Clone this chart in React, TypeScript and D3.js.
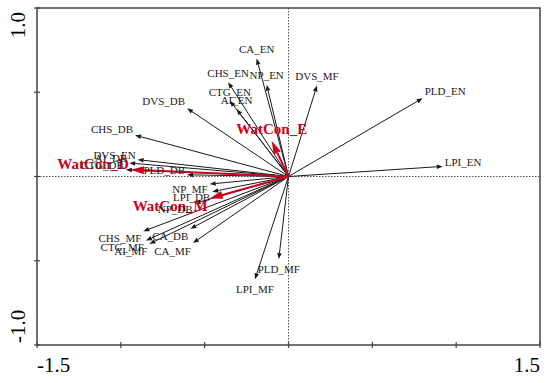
import * as d3 from "d3";

// species / landscape metrics (black arrows)
const metricNames = [
    "CA_EN", "NP_EN", "CHS_EN", "CTG_EN", "AI_EN", "DVS_MF", "PLD_EN", "LPI_EN",
    "DVS_DB", "CHS_DB", "DVS_EN", "AI_DB", "CTG_DB", "PLD_DB", "NP_MF", "LPI_DB",
    "NP_DB", "CHS_MF", "CA_DB", "CTG_MF", "AI_MF", "CA_MF", "PLD_MF", "LPI_MF",
];
const metricX = [
    -0.19, -0.13, -0.36, -0.35, -0.31, 0.17, 0.8, 0.92,
    -0.605, -0.915, -0.9, -0.95, -0.97, -0.605, -0.47, -0.455,
    -0.56, -0.866, -0.585, -0.85, -0.83, -0.57, -0.058, -0.2,
];
const metricY = [
    0.7, 0.545, 0.56, 0.45, 0.4, 0.54, 0.465, 0.06,
    0.405, 0.245, 0.1, 0.08, 0.04, 0.01, -0.045, -0.09,
    -0.16, -0.325, -0.31, -0.38, -0.4, -0.395, -0.49, -0.61,
];

// water conditions (red arrows)
const conNames = ["WatCon_E", "WatCon_D", "WatCon_M"];
const conX = [-0.1, -0.94, -0.47];
const conY = [0.21, 0.04, -0.13];

const xTicks = [-1.5, -1, -0.5, 0, 0.5, 1, 1.5];
const yTicks = [-1, -0.5, 0, 0.5, 1];
const xTickLabels = ["-1.5", "1.5"];
const yTickLabels = ["-1.0", "1.0"];

const W = 550;
const H = 383;
const RED = "#d00020";
const FONT = "'Liberation Serif', 'Times New Roman', serif";

const x = d3.scaleLinear().domain([-1.5, 1.5]).range([37, 540]);
const y = d3.scaleLinear().domain([-1, 1]).range([345, 8]);

interface ArrowProps {
    vx: number;
    vy: number;
    name: string;
    color: string;
    bold: boolean;
    part: "line" | "label";
}

function Arrow({ vx, vy, name, color, bold, part }: ArrowProps) {
    const x0 = x(0);
    const y0 = y(0);
    const x1 = x(vx);
    const y1 = y(vy);
    const dx = x1 - x0;
    const dy = y1 - y0;
    const len = Math.hypot(dx, dy);
    const ux = dx / len;
    const uy = dy / len;
    const k = bold ? 1.3 : 1;
    const headLen = bold ? 13 : 6;
    const headW = bold ? 4 : 2.3;

    if (part === "line") {
        const bx = x1 - ux * headLen;
        const by = y1 - uy * headLen;
        const head = [
            [x1, y1],
            [bx - uy * headW, by + ux * headW],
            [bx + uy * headW, by - ux * headW],
        ];
        return (
            <g>
                <line
                    x1={x0}
                    y1={y0}
                    x2={bx}
                    y2={by}
                    stroke={color}
                    strokeWidth={bold ? 2 : 1}
                />
                <path d={`M${head.map((p) => p.join(",")).join("L")}Z`} fill={color} />
            </g>
        );
    }

    const side = Math.abs(ux) > 0.7;
    const anchor = side ? (ux > 0 ? "start" : "end") : "middle";
    const tx = side ? x1 + Math.sign(ux) * 2 : x1;
    const ty = y1 + (Math.sign(uy) * 4.5 + uy * 5.5) * k;
    return (
        <text
            x={tx}
            y={ty}
            textAnchor={anchor}
            dominantBaseline="central"
            fontFamily={FONT}
            fontSize={bold ? 15 : 11}
            fontWeight={bold ? "bold" : "normal"}
            fill={color}
        >
            {name}
        </text>
    );
}

export default function App() {
    const left = x(-1.5);
    const right = x(1.5);
    const top = y(1);
    const bottom = y(-1);

    return (
        <svg
            width={W}
            height={H}
            style={{ position: "absolute", left: 0, top: 0, background: "#fff" }}
        >
            {/* zero lines */}
            <line x1={left} x2={right} y1={y(0)} y2={y(0)} stroke="#555" strokeDasharray="1.5,1.5" />
            <line x1={x(0)} x2={x(0)} y1={top} y2={bottom} stroke="#555" strokeDasharray="1.5,1.5" />

            {/* arrows */}
            {metricNames.map((n, i) => (
                <Arrow key={n} vx={metricX[i]} vy={metricY[i]} name={n} color="#1a1a1a" bold={false} part="line" />
            ))}
            {conNames.map((n, i) => (
                <Arrow key={n} vx={conX[i]} vy={conY[i]} name={n} color={RED} bold={true} part="line" />
            ))}
            {conNames.map((n, i) => (
                <Arrow key={n + "-l"} vx={conX[i]} vy={conY[i]} name={n} color={RED} bold={true} part="label" />
            ))}
            {metricNames.map((n, i) => (
                <Arrow key={n + "-l"} vx={metricX[i]} vy={metricY[i]} name={n} color="#1a1a1a" bold={false} part="label" />
            ))}

            {/* frame */}
            <rect x={left} y={top} width={right - left} height={bottom - top} fill="none" stroke="#444" strokeWidth={1.5} />
            {xTicks.map((t) => (
                <line key={"xt" + t} x1={x(t)} x2={x(t)} y1={bottom - 3} y2={bottom + 3} stroke="#444" strokeWidth={1.2} />
            ))}
            {yTicks.map((t) => (
                <line key={"yt" + t} x1={left - 3} x2={left + 3} y1={y(t)} y2={y(t)} stroke="#444" strokeWidth={1.2} />
            ))}

            {/* tick labels */}
            <text x={left} y={372} fontFamily={FONT} fontSize={21} textAnchor="start">
                {xTickLabels[0]}
            </text>
            <text x={right} y={372} fontFamily={FONT} fontSize={21} textAnchor="end">
                {xTickLabels[1]}
            </text>
            <text transform={`translate(25, ${bottom - 2}) rotate(-90)`} fontFamily={FONT} fontSize={21} textAnchor="start">
                {yTickLabels[0]}
            </text>
            <text transform={`translate(25, ${top + 4}) rotate(-90)`} fontFamily={FONT} fontSize={21} textAnchor="end">
                {yTickLabels[1]}
            </text>
        </svg>
    );
}
